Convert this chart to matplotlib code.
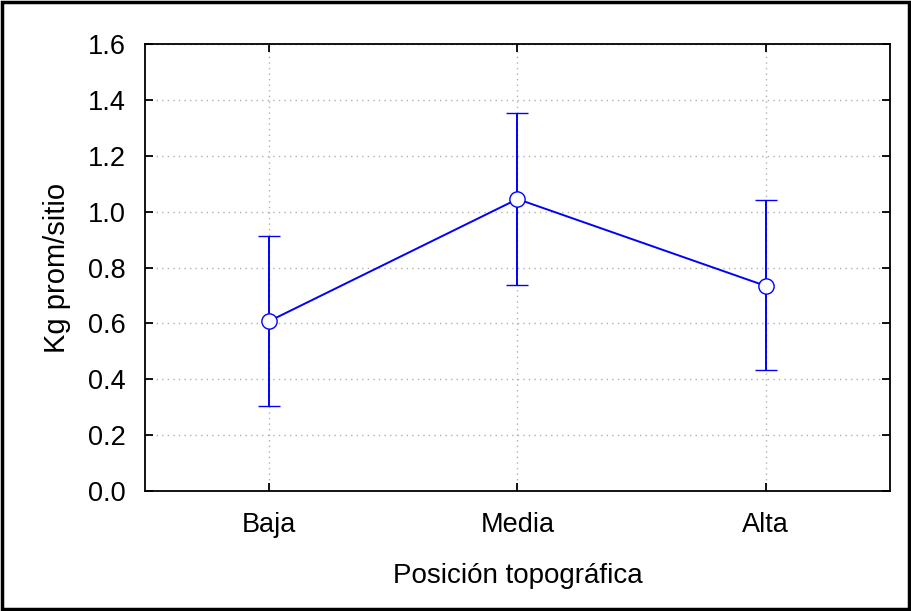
import matplotlib
matplotlib.use('Agg')
import matplotlib.pyplot as plt
from matplotlib.patches import Rectangle

plt.rcParams['font.family'] = ['Liberation Sans', 'DejaVu Sans']

categorias = ['Baja', 'Media', 'Alta']
media = [0.608, 1.045, 0.734]
lim_sup = [0.913, 1.353, 1.042]
lim_inf = [0.304, 0.737, 0.433]

err_inf = [m - l for m, l in zip(media, lim_inf)]
err_sup = [s - m for m, s in zip(media, lim_sup)]
x = list(range(len(categorias)))
yticks = [0, 0.2, 0.4, 0.6, 0.8, 1.0, 1.2, 1.4, 1.6]

fig = plt.figure(figsize=(9.12, 6.11), dpi=100)
ax = fig.add_axes([145/912, 1 - 491/611, 745/912, 447/611])

ax.errorbar(x, media, yerr=[err_inf, err_sup], color='#0000ff', lw=1.4,
            capsize=8, capthick=1.4, marker='o', markersize=11,
            markerfacecolor='white', markeredgecolor='#0000ff', markeredgewidth=1.0,
            zorder=3)

ax.set_xlim(-0.5, 2.5)
ax.set_ylim(0, 1.6)
ax.set_xticks(x)
ax.set_xticklabels(categorias)
ax.set_yticks(yticks)
ax.set_yticklabels(['%.1f' % v for v in yticks])
ax.grid(True, linestyle=(0, (1, 3)), color='#b0b0b0', lw=1)
ax.set_axisbelow(True)
ax.tick_params(direction='in', length=6, width=1.3, labelsize=19.5, top=True, right=True)
ax.tick_params(axis='y', pad=14)
ax.tick_params(axis='x', pad=15)
for s in ax.spines.values():
    s.set_linewidth(1.3)

ax.set_xlabel('Posición topográfica', fontsize=20, labelpad=18)
ax.set_ylabel('Kg prom/sitio', fontsize=21, labelpad=12)

fig.patches.append(Rectangle((0.002, 0.003), 0.995, 0.994, transform=fig.transFigure,
                             fill=False, edgecolor='black', lw=2.5))

fig.savefig('out.png', dpi=100)
